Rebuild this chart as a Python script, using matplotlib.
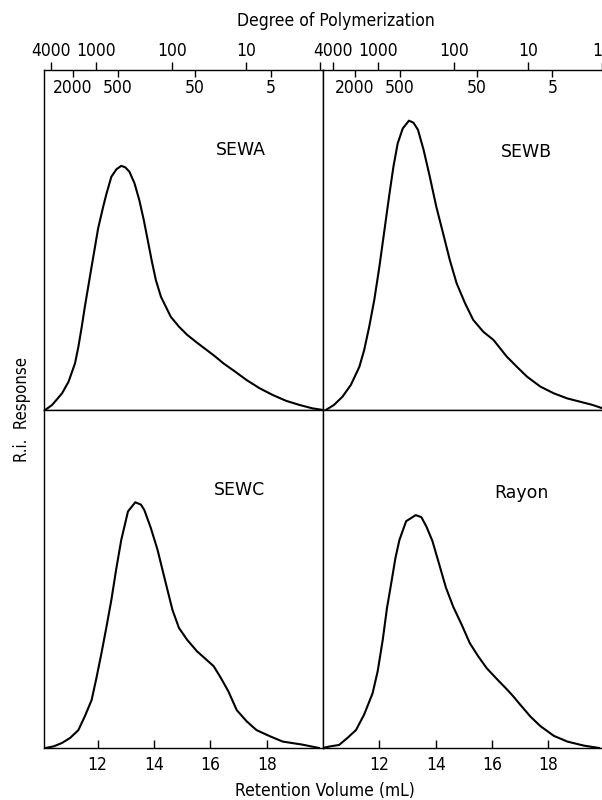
import matplotlib
matplotlib.use('Agg')
import matplotlib.pyplot as plt

# RI response traces
# x = retention volume (mL), y = response as % of panel height
sewa_vol = [10.14, 10.39, 10.74, 10.97, 11.20, 11.32, 11.44, 11.55, 11.67, 11.79, 11.91, 12.02,
            12.20, 12.32, 12.49, 12.67, 12.84, 12.98, 13.13, 13.31, 13.48, 13.64, 13.78, 13.93,
            14.07, 14.25, 14.60, 14.89, 15.18, 15.53, 15.88, 16.18, 16.47, 16.88, 17.29, 17.75,
            18.22, 18.69, 19.16, 19.62, 20.0]
sewa_resp = [0, 1.5, 4.9, 8.3, 13.7, 18.6, 24.5, 30.4, 36.3, 42.2, 48.0, 53.4,
             59.8, 63.7, 68.6, 70.8, 71.8, 71.4, 70.1, 66.7, 61.8, 55.9, 50.0, 43.6,
             38.2, 33.3, 27.4, 24.5, 22.1, 19.8, 17.6, 15.7, 13.7, 11.3, 8.8, 6.4,
             4.4, 2.7, 1.5, 0.5, 0]

sewb_vol = [10.10, 10.39, 10.69, 10.99, 11.29, 11.46, 11.64, 11.82, 12.00, 12.18, 12.36, 12.50,
            12.65, 12.83, 13.05, 13.21, 13.37, 13.57, 13.79, 14.02, 14.26, 14.50, 14.74, 15.04,
            15.33, 15.69, 16.05, 16.29, 16.52, 16.88, 17.24, 17.71, 18.19, 18.67, 19.14, 19.56,
            19.92]
sewb_resp = [0, 1.5, 3.9, 7.4, 12.7, 17.6, 24.5, 32.4, 42.1, 52.9, 63.7, 71.6,
             78.4, 82.8, 85.1, 84.5, 82.4, 76.5, 68.6, 59.8, 52.0, 44.1, 37.3, 31.4,
             26.5, 23.0, 20.6, 18.1, 15.7, 12.7, 9.8, 6.9, 4.9, 3.4, 2.4, 1.5,
             0.5]

sewc_vol = [10.15, 10.45, 10.74, 11.03, 11.32, 11.55, 11.79, 11.96, 12.14, 12.32, 12.49, 12.67,
            12.84, 13.08, 13.34, 13.54, 13.66, 13.89, 14.13, 14.39, 14.66, 14.89, 15.18, 15.53,
            15.88, 16.12, 16.35, 16.64, 16.94, 17.29, 17.64, 18.11, 18.57, 19.27, 19.86]
sewc_resp = [0, 0.5, 1.5, 3.0, 5.3, 9.4, 14.2, 20.7, 28.1, 36.0, 43.8, 53.3,
             61.5, 70.0, 72.7, 72.0, 70.4, 65.1, 58.6, 49.8, 40.8, 35.5, 32.0, 28.6,
             26.0, 24.2, 21.1, 16.8, 11.2, 7.9, 5.3, 3.5, 1.9, 1.0, 0]

rayon_vol = [9.98, 10.27, 10.57, 10.87, 11.17, 11.46, 11.76, 11.94, 12.12, 12.27, 12.42, 12.57,
             12.71, 12.95, 13.29, 13.49, 13.67, 13.88, 14.08, 14.36, 14.62, 14.92, 15.21, 15.51,
             15.81, 16.17, 16.52, 16.76, 17.00, 17.36, 17.71, 18.19, 18.67, 19.26, 19.80]
rayon_resp = [0, 0.5, 0.9, 3.0, 5.3, 9.9, 16.2, 22.7, 32.0, 41.4, 48.7, 56.2,
              61.5, 67.1, 68.9, 68.3, 65.5, 61.3, 55.6, 47.5, 41.8, 36.5, 31.0, 27.1,
              23.6, 20.4, 17.4, 15.2, 12.8, 9.3, 6.5, 3.6, 1.9, 0.7, 0]

# degree of polymerization scale (top axis) vs retention volume
dp_major = [4000, 1000, 100, 10, 1]
dp_major_vol = [10.35, 11.96, 14.64, 17.27, 19.9]
dp_minor = [2000, 500, 50, 5]
dp_minor_vol = [11.13, 12.72, 15.46, 18.14]

vol_ticks = [12, 14, 16, 18]

W, H = 602, 800


def box(x0, y0, x1, y1):
    # pixel box (top-left origin) -> figure fraction rect
    return [x0 / W, 1 - y1 / H, (x1 - x0) / W, (y1 - y0) / H]


def narrow(t, size=12.5):
    t.set_family('DejaVu Sans')
    t.set_stretch('condensed')
    t.set_fontsize(size)


fig = plt.figure(figsize=(6.02, 8.0), dpi=100)

panels = [
    ('SEWA', sewa_vol, sewa_resp, box(44, 70, 323, 410), (10.1, 20.0), True, False, (0.707, 0.765)),
    ('SEWB', sewb_vol, sewb_resp, box(323, 70, 602, 410), (10.0, 19.9), True, True, (0.728, 0.759)),
    ('SEWC', sewc_vol, sewc_resp, box(44, 410, 323, 748), (10.1, 20.0), False, False, (0.70, 0.763)),
    ('Rayon', rayon_vol, rayon_resp, box(323, 410, 602, 748), (10.0, 19.9), False, True, (0.71, 0.754)),
]

for name, vol, resp, rect, xlim, top, right, lab in panels:
    ax = fig.add_axes(rect)
    ax.plot(vol, resp, color='black', lw=1.5)
    ax.set_xlim(*xlim)
    ax.set_ylim(0, 100)
    ax.set_yticks([])
    for s in ax.spines.values():
        s.set_linewidth(1.0)
    if right:
        ax.spines['right'].set_visible(False)
    ax.text(lab[0], lab[1], name, transform=ax.transAxes, ha='center', va='center',
            fontsize=12.5, family='DejaVu Sans')

    if top:
        ax.tick_params(axis='x', which='both', bottom=False, labelbottom=False,
                       top=True, labeltop=True)
        major_labels = [str(d) for d in dp_major]
        if not right:
            major_labels[-1] = ''
        ax.set_xticks(dp_major_vol, major_labels)
        ax.set_xticks(dp_minor_vol, [str(d) for d in dp_minor], minor=True)
        ax.tick_params(axis='x', which='major', direction='out', length=6, width=1.0, pad=1.5)
        ax.tick_params(axis='x', which='minor', direction='in', length=5, width=1.0, pad=-19.5)
        for t in ax.get_xticklabels(which='both'):
            narrow(t)
        if right:
            ax.get_xticklabels()[-1].set_ha('right')
    else:
        ax.set_xticks(vol_ticks, [str(v) for v in vol_ticks])
        ax.tick_params(axis='x', which='major', direction='in', length=6, width=1.0, pad=6)
        for t in ax.get_xticklabels():
            narrow(t)

t = fig.text(336 / W, 1 - 21 / H, 'Degree of Polymerization', ha='center', va='center')
narrow(t, 12.5)
t = fig.text(325 / W, 1 - 791 / H, 'Retention Volume (mL)', ha='center', va='center')
narrow(t, 12.5)
t = fig.text(22 / W, 1 - 410 / H, 'R.i.  Response', ha='center', va='center', rotation=90)
narrow(t, 12)

fig.savefig('out.png', dpi=100)
